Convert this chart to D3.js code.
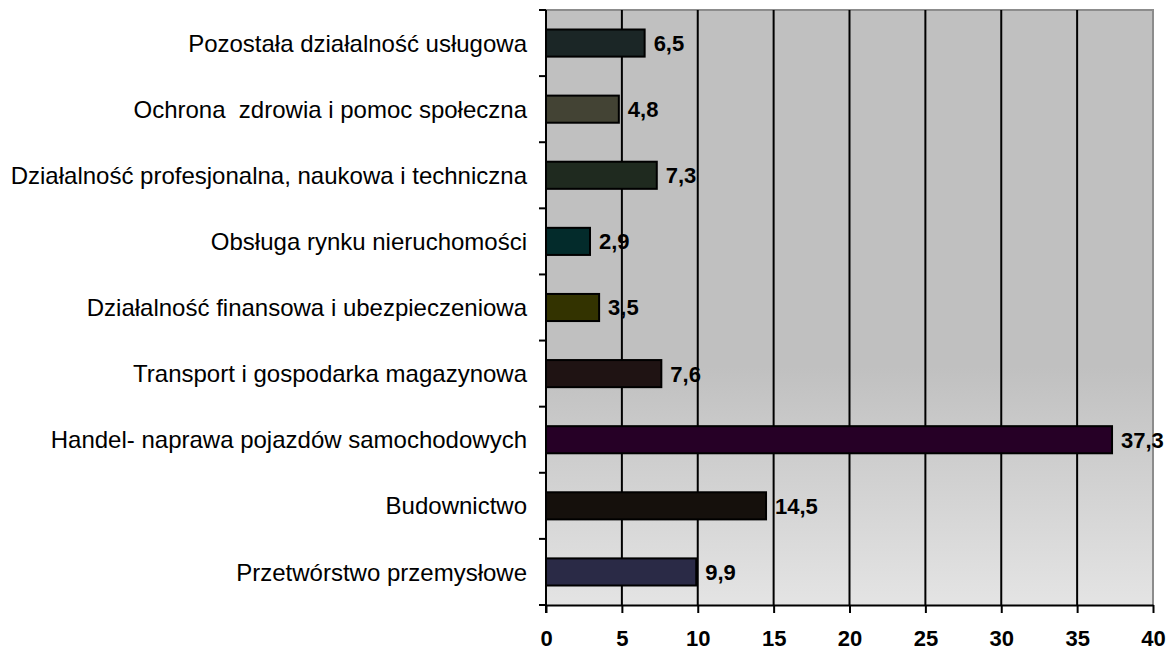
<!DOCTYPE html>
<html><head><meta charset="utf-8">
<script src="https://cdn.jsdelivr.net/npm/d3@7"></script>
<style>body{margin:0;background:#fff}svg{display:block}</style>
</head><body>
<svg id="c" width="1169" height="650"></svg>
<script>
const categories = [
  "Pozostała działalność usługowa",
  "Ochrona  zdrowia i pomoc społeczna",
  "Działalność profesjonalna, naukowa i techniczna",
  "Obsługa rynku nieruchomości",
  "Działalność finansowa i ubezpieczeniowa",
  "Transport i gospodarka magazynowa",
  "Handel- naprawa pojazdów samochodowych",
  "Budownictwo",
  "Przetwórstwo przemysłowe"
];
const values = [6.5, 4.8, 7.3, 2.9, 3.5, 7.6, 37.3, 14.5, 9.9];
const valueLabels = ["6,5", "4,8", "7,3", "2,9", "3,5", "7,6", "37,3", "14,5", "9,9"];
const barColors = ["#1b2626", "#434334", "#1f2a1f", "#032b2b", "#333300", "#1f1313", "#260026", "#15100c", "#2a2a46"];
const xTicks = [0, 5, 10, 15, 20, 25, 30, 35, 40];

const svg = d3.select("#c");
const L = 546, R = 1153, T = 10, B = 605;
const FONT = "Liberation Sans, Arial, sans-serif";
const x = d3.scaleLinear().domain([0, 40]).range([L, R]);
const y = d3.scaleBand().domain(categories).range([T, B]).paddingInner(0.59).paddingOuter(0.295);
const yTick = d3.scaleBand().domain(categories).range([T, B]);

const defs = svg.append("defs");
const g = defs.append("linearGradient").attr("id", "bg").attr("x1", 0).attr("y1", 0).attr("x2", 0).attr("y2", 1);
g.append("stop").attr("offset", "0").attr("stop-color", "#c0c0c0");
g.append("stop").attr("offset", "0.6").attr("stop-color", "#c0c0c0");
g.append("stop").attr("offset", "1").attr("stop-color", "#e4e4e4");

svg.append("rect").attr("x", L).attr("y", T).attr("width", R - L).attr("height", B - T).attr("fill", "url(#bg)");
svg.append("path").attr("d", `M${L},${T}H${R}V${B}`).attr("fill", "none").attr("stroke", "#8c8c8c").attr("stroke-width", 2);

svg.append("g").selectAll("line").data(xTicks.filter(d => d > 0 && d < 40)).join("line")
  .attr("x1", d => x(d)).attr("x2", d => x(d)).attr("y1", T).attr("y2", B)
  .attr("stroke", "#000").attr("stroke-width", 2);

svg.append("g").selectAll("rect").data(categories).join("rect")
  .attr("x", x(0)).attr("y", d => y(d))
  .attr("width", (d, i) => x(values[i]) - x(0))
  .attr("height", y.bandwidth())
  .attr("fill", (d, i) => barColors[i])
  .attr("stroke", "#000").attr("stroke-width", 2);

svg.append("g").selectAll("text").data(categories).join("text")
  .attr("x", (d, i) => x(values[i]) + 9)
  .attr("y", d => y(d) + y.bandwidth() / 2)
  .attr("dy", "0.36em")
  .attr("font-family", FONT)
  .attr("font-weight", "bold").attr("font-size", 22).attr("fill", "#000")
  .text((d, i) => valueLabels[i]);

const xAxis = svg.append("g").attr("transform", `translate(0,${B})`)
  .call(d3.axisBottom(x).tickValues(xTicks).tickSize(8).tickSizeOuter(0).tickPadding(17));
xAxis.select(".domain").attr("stroke", "#000").attr("stroke-width", 2);
xAxis.selectAll(".tick line").attr("stroke", "#000").attr("stroke-width", 2);
xAxis.selectAll(".tick text").attr("font-family", FONT)
  .attr("font-weight", "bold").attr("font-size", 22).attr("fill", "#000");

svg.append("line").attr("x1", L).attr("x2", L).attr("y1", T).attr("y2", B + 8).attr("stroke", "#000").attr("stroke-width", 2);
const bounds = categories.map(c => yTick(c)).concat([B]);
svg.append("g").selectAll("line").data(bounds).join("line")
  .attr("x1", L - 7).attr("x2", L).attr("y1", d => d).attr("y2", d => d)
  .attr("stroke", "#000").attr("stroke-width", 2);

svg.append("g").selectAll("text").data(categories).join("text")
  .attr("x", 527).attr("y", d => y(d) + y.bandwidth() / 2)
  .attr("dy", "0.36em").attr("text-anchor", "end")
  .attr("font-family", FONT)
  .attr("font-size", 24).attr("fill", "#000")
  .style("white-space", "pre")
  .text(d => d);
</script>
</body></html>
